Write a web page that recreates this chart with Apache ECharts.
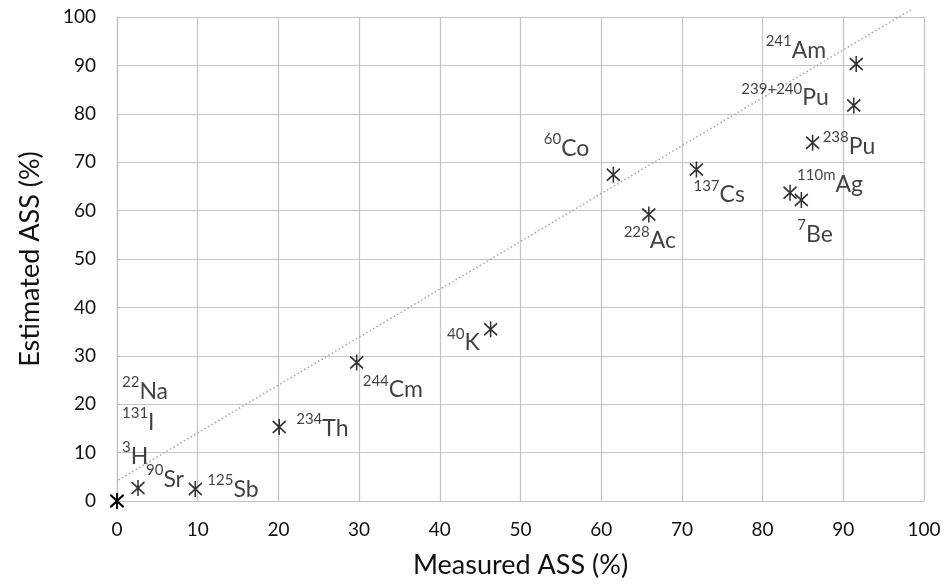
<!DOCTYPE html>
<html>
<head>
<meta charset="utf-8">
<script src="https://cdn.jsdelivr.net/npm/echarts@6/dist/echarts.min.js"></script>
<style>
html,body{margin:0;padding:0;background:#fff;}
#chart{width:944px;height:586px;}
</style>
</head>
<body>
<div id="chart"></div>
<script>
// ---- data ----
const isotopeMass = ['3','131','22','90','125','234','244','40','60','228','137','110m','7','238','239+240','241'];
const isotopeElem = ['H','I','Na','Sr','Sb','Th','Cm','K','Co','Ac','Cs','Ag','Be','Pu','Pu','Am'];
const measuredASS = [0, 0, 0, 2.6, 9.7, 20.1, 29.7, 46.3, 61.5, 65.9, 71.8, 83.4, 84.8, 86.2, 91.3, 91.6];
const estimatedASS = [0, 0, 0, 2.7, 2.5, 15.3, 28.6, 35.5, 67.4, 59.2, 68.5, 63.7, 62.2, 74.0, 81.7, 90.3];
const trendX = [-2.8, 98.6];
const trendY = [1.4, 101.7];
const axisTicks = [0, 10, 20, 30, 40, 50, 60, 70, 80, 90, 100];

// ---- label layout (offsets from marker centre, px) ----
const labelLayout = [
  ['left', 5, -47], ['left', 5, -81], ['left', 5, -112], ['left', 8, -11],
  ['left', 12, -2], ['left', 17, -1], ['left', 6, 25], ['right', -11, 11],
  ['right', -24, -29], ['center', 1, 24], ['left', -3, 23], ['left', 7, -11],
  ['left', -4, 32], ['left', 10, 1], ['right', -25, -10], ['right', -30, -16]
];

const FONT = 'Lato, "Open Sans", sans-serif';

const points = measuredASS.map((x, i) => {
  const [align, dx, dy] = labelLayout[i];
  return {
    value: [x, estimatedASS[i]],
    label: {
      show: true,
      position: 'inside',
      align: align,
      verticalAlign: 'middle',
      offset: [dx, dy],
      formatter: '{s|' + isotopeMass[i] + '}{b|' + isotopeElem[i] + '}'
    }
  };
});

const chart = echarts.init(document.getElementById('chart'), null, {renderer: 'canvas'});
chart.setOption({
  backgroundColor: '#fff',
  animation: false,
  grid: {left: 117, right: 20, top: 17, bottom: 85, containLabel: false},
  xAxis: {
    type: 'value', min: 0, max: 100, interval: 10,
    name: 'Measured ASS (%)', nameLocation: 'middle', nameGap: 51,
    nameTextStyle: {fontFamily: FONT, fontSize: 27, color: '#111'},
    axisLine: {show: true, lineStyle: {color: '#bfbfbf', width: 1.2}},
    axisTick: {show: false},
    axisLabel: {fontFamily: FONT, fontSize: 19, color: '#111', margin: 19,
      formatter: v => axisTicks.includes(v) ? String(v) : ''},
    splitLine: {show: true, lineStyle: {color: '#c4c4c4', width: 1.2}}
  },
  yAxis: {
    type: 'value', min: 0, max: 100, interval: 10,
    name: 'Estimated ASS (%)', nameLocation: 'middle', nameGap: 73,
    nameTextStyle: {fontFamily: FONT, fontSize: 27, color: '#111'},
    axisLine: {show: true, lineStyle: {color: '#bfbfbf', width: 1.2}},
    axisTick: {show: false},
    axisLabel: {fontFamily: FONT, fontSize: 19, color: '#111', margin: 21,
      formatter: v => axisTicks.includes(v) ? String(v) : ''},
    splitLine: {show: true, lineStyle: {color: '#c4c4c4', width: 1.2}}
  },
  series: [
    {
      type: 'line',
      data: trendX.map((x, i) => [x, trendY[i]]),
      showSymbol: false,
      symbol: 'none',
      clip: false,
      silent: true,
      lineStyle: {color: '#a6a6a6', width: 1.5, type: [1.5, 2.5]},
      z: 2
    },
    {
      type: 'scatter',
      data: points,
      symbol: 'path://M0,2 L12,14 M12,2 L0,14 M6,0 L6,16',
      symbolSize: [13, 16],
      clip: false,
      itemStyle: {color: 'none', borderColor: '#000', borderWidth: 1.7},
      label: {
        color: '#111',
        fontFamily: FONT,
        rich: {
          s: {fontFamily: FONT, fontSize: 15, color: '#111', verticalAlign: 'top', lineHeight: 28},
          b: {fontFamily: FONT, fontSize: 23, color: '#111', verticalAlign: 'bottom', lineHeight: 28}
        }
      },
      z: 3
    }
  ]
});
</script>
</body>
</html>
